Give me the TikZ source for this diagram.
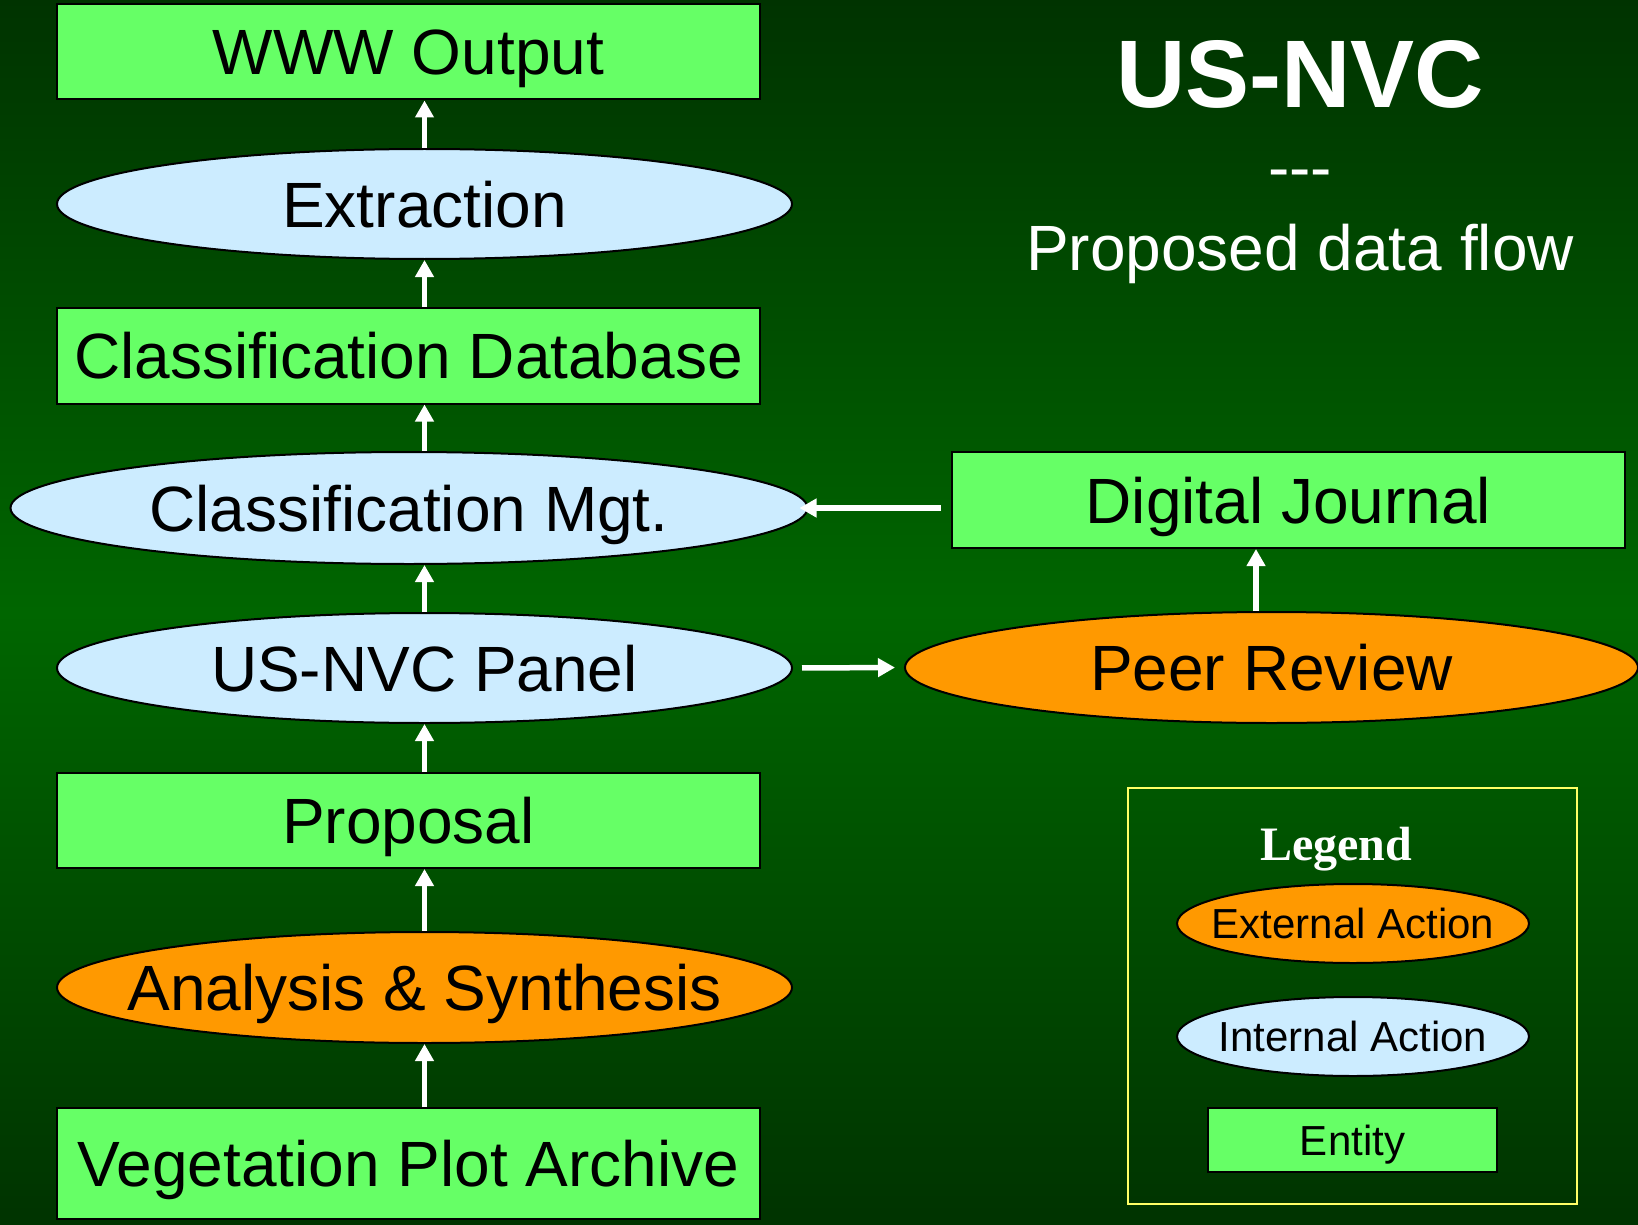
\documentclass[tikz,border=0pt]{standalone}
\usepackage{fontspec}
\setmainfont{Liberation Sans}
\newfontfamily\legendfont{Liberation Serif}
\usetikzlibrary{shapes.geometric,arrows.meta}
\definecolor{boxgreen}{HTML}{66FF66}
\definecolor{lightblue}{HTML}{CCECFF}
\definecolor{orangefill}{HTML}{FF9900}
\definecolor{bgdark}{HTML}{003300}
\definecolor{bgmid}{HTML}{006600}
\definecolor{legendyellow}{HTML}{FFFF66}
\begin{document}
\begin{tikzpicture}[x=1pt,y=-1pt,
  bigtext/.style={font=\fontsize{64}{70}\selectfont, text height=46pt, text depth=0pt},
  smalltext/.style={font=\fontsize{42}{46}\selectfont, text height=30pt, text depth=0pt},
  entitybox/.style={draw=black, line width=2pt, fill=boxgreen, rectangle, inner sep=0pt, text=black},
  actionell/.style={draw=black, line width=2pt, ellipse, inner sep=0pt, text=black},
  internal/.style={actionell, fill=lightblue},
  external/.style={actionell, fill=orangefill},
  flow/.style={draw=white, line width=5.5pt, -{Triangle[width=18pt,length=17pt]}},
  whitetext/.style={text=white, inner sep=0pt, anchor=base},
]
\useasboundingbox (0,0) rectangle (1638,1225);
\shade[top color=bgdark, bottom color=bgdark, middle color=bgmid] (0,0) rectangle (1638,1225);

% left column
\node[entitybox, bigtext, minimum width=703pt, minimum height=95pt] (www) at (408.5,52) {WWW Output};
\node[internal, bigtext, minimum width=735pt, minimum height=110pt] (extr) at (424.5,204) {\makebox[0pt]{Extraction}};
\node[entitybox, bigtext, minimum width=703pt, minimum height=96pt] (cldb) at (408.5,355.5) {Classification Database};
\node[internal, bigtext, minimum width=797pt, minimum height=112pt] (mgt) at (409,508) {\makebox[0pt]{Classification Mgt.}};
\node[internal, bigtext, minimum width=735pt, minimum height=110pt] (panel) at (424.5,668) {\makebox[0pt]{US-NVC Panel}};
\node[entitybox, bigtext, minimum width=703pt, minimum height=95pt] (prop) at (408.5,820.5) {Proposal};
\node[external, bigtext, minimum width=735pt, minimum height=111pt] (anal) at (424.5,987.5) {\makebox[0pt]{Analysis \& Synthesis}};
\node[entitybox, bigtext, minimum width=703pt, minimum height=111pt] (veg) at (408.5,1163.5) {Vegetation Plot Archive};

% right side
\node[entitybox, bigtext, minimum width=673pt, minimum height=96pt] (dj) at (1288.5,500) {Digital Journal};
\node[external, bigtext, minimum width=733pt, minimum height=111pt] (peer) at (1271.5,667.5) {\makebox[0pt]{Peer Review}};

% title
\node[whitetext, font=\bfseries\fontsize{96}{100}\selectfont] (title) at (1300,108) {US-NVC};
\node[whitetext, font=\fontsize{64}{70}\selectfont] (dashes) at (1300,190) {-\kern0pt-\kern0pt-};
\node[whitetext, font=\fontsize{64}{70}\selectfont] (subtitle) at (1300,270) {Proposed data flow};

% legend
\node[draw=legendyellow, line width=2pt, minimum width=449pt, minimum height=416pt, inner sep=0pt] (legbox) at (1352.5,996) {};
\node[whitetext, font=\legendfont\bfseries\fontsize{48}{52}\selectfont] (legtitle) at (1336,860) {Legend};
\node[external, smalltext, minimum width=352pt, minimum height=79pt] (extleg) at (1353,923.5) {\makebox[0pt]{External Action}};
\node[internal, smalltext, minimum width=352pt, minimum height=79pt] (intleg) at (1353,1036.5) {\makebox[0pt]{Internal Action}};
\node[entitybox, smalltext, minimum width=289pt, minimum height=64pt] (entleg) at (1352.5,1140) {Entity};

% connectors
\coordinate (colx) at (424.5,0);
\coordinate (pjx) at (1256,0);
\coordinate (mgtin) at ([xshift=-9pt]mgt.east);
\draw[flow] (extr.north) -- (www.south -| extr.north);
\draw[flow] (cldb.north -| colx) -- (extr.south);
\draw[flow] (mgt.north -| colx) -- (cldb.south -| colx);
\draw[flow] (panel.north) -- (panel.north |- mgt.south);
\draw[flow] (prop.north -| colx) -- (panel.south);
\draw[flow] (anal.north) -- (anal.north |- prop.south);
\draw[flow] (veg.north -| colx) -- (anal.south);
\draw[flow, shorten <=10pt] (dj.west |- mgtin) -- (mgtin);
\draw[flow, shorten <=9pt, shorten >=9pt] (panel.east) -- (peer.west);
\draw[flow] (peer.north -| pjx) -- (dj.south -| pjx);
\end{tikzpicture}
\end{document}
